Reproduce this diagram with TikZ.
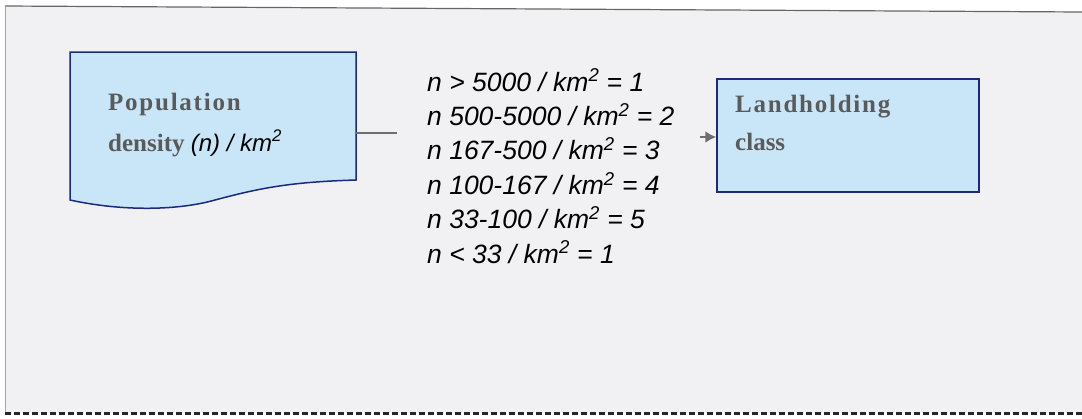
\documentclass[tikz,border=0pt]{standalone}
\usepackage{fontspec}
\setmainfont{Liberation Serif}
\newfontfamily\listfont{Liberation Sans}
\usetikzlibrary{arrows.meta}
\definecolor{bgc}{HTML}{F1F1F3}
\definecolor{boxfill}{HTML}{C8E6F8}
\definecolor{boxline}{HTML}{1C2A7E}
\definecolor{labc}{HTML}{5A5A5A}
\definecolor{connc}{HTML}{6E6E6E}
\tikzset{
  boxtext/.style={anchor=base west, inner sep=0pt, text=labc,
    font=\fontsize{25}{29}\selectfont\bfseries},
  listline/.style={anchor=base west, inner sep=0pt, text=black,
    font=\listfont\itshape\fontsize{26.5}{30}\selectfont},
  conn/.style={draw=connc, line width=2.2pt},
}
\newcommand{\spaced}[1]{{\addfontfeature{LetterSpace=7}#1}}
\begin{document}
\begin{tikzpicture}[x=1pt,y=-1pt]
\useasboundingbox (0,0) rectangle (1082,418);
\fill[white] (0,0) rectangle (1082,418);
\fill[bgc] (5,6) -- (1082,12) -- (1082,413) -- (5,413) -- cycle;
% frame
\draw[gray!80!black, line width=1.2pt] (5,6) -- (1082,12);
\draw[gray!70, line width=1pt] (5,6) -- (5,413);
\draw[black!85, line width=3pt, dash pattern=on 6pt off 3pt] (5,413) -- (1082,413);
% document shape
\fill[boxfill] (70,52) -- (356,52) -- (356,180)
  .. controls (290,182) and (260,188) .. (215,200)
  .. controls (180,210) and (125,212) .. (70,200) -- cycle;
\draw[boxline, line width=1.5pt] (70,52) -- (356,52) -- (356,180)
  .. controls (290,182) and (260,188) .. (215,200)
  .. controls (180,210) and (125,212) .. (70,200) -- cycle;
\coordinate (docE) at (356,133);
\node[boxtext] (pop1) at (108,110) {\spaced{Population}};
\node[boxtext] (pop2) at (108,151) {density \normalfont\listfont\itshape\fontsize{24}{28}\selectfont\textcolor{black}{(n) / km\textsuperscript{2}}};
% list
\node[listline] (l1) at (427,91) {n > 5000 / km\textsuperscript{2} = 1};
\node[listline] (l2) at (427,125.4) {n 500-5000 / km\textsuperscript{2} = 2};
\node[listline] (l3) at (427,159.8) {n 167-500 / km\textsuperscript{2} = 3};
\node[listline] (l4) at (427,194.2) {n 100-167 / km\textsuperscript{2} = 4};
\node[listline] (l5) at (427,228.6) {n 33-100 / km\textsuperscript{2} = 5};
\node[listline] (l6) at (427,263) {n < 33 / km\textsuperscript{2} = 1};
% landholding box
\node[draw=boxline, fill=boxfill, line width=1.5pt, minimum width=262pt, minimum height=113pt, inner sep=0pt] (land) at (848,135.5) {};
\node[boxtext] (land1) at (735,112) {\spaced{Landholding}};
\node[boxtext] (land2) at (735,150) {class};
% connectors
\coordinate (mid1) at (397,133);
\coordinate (mid2) at (700,137);
\draw[conn] (docE) -- (mid1);
\draw[conn, -{Latex[length=11pt,width=12pt]}] (mid2) -- (land.west |- mid2);
\end{tikzpicture}
\end{document}
